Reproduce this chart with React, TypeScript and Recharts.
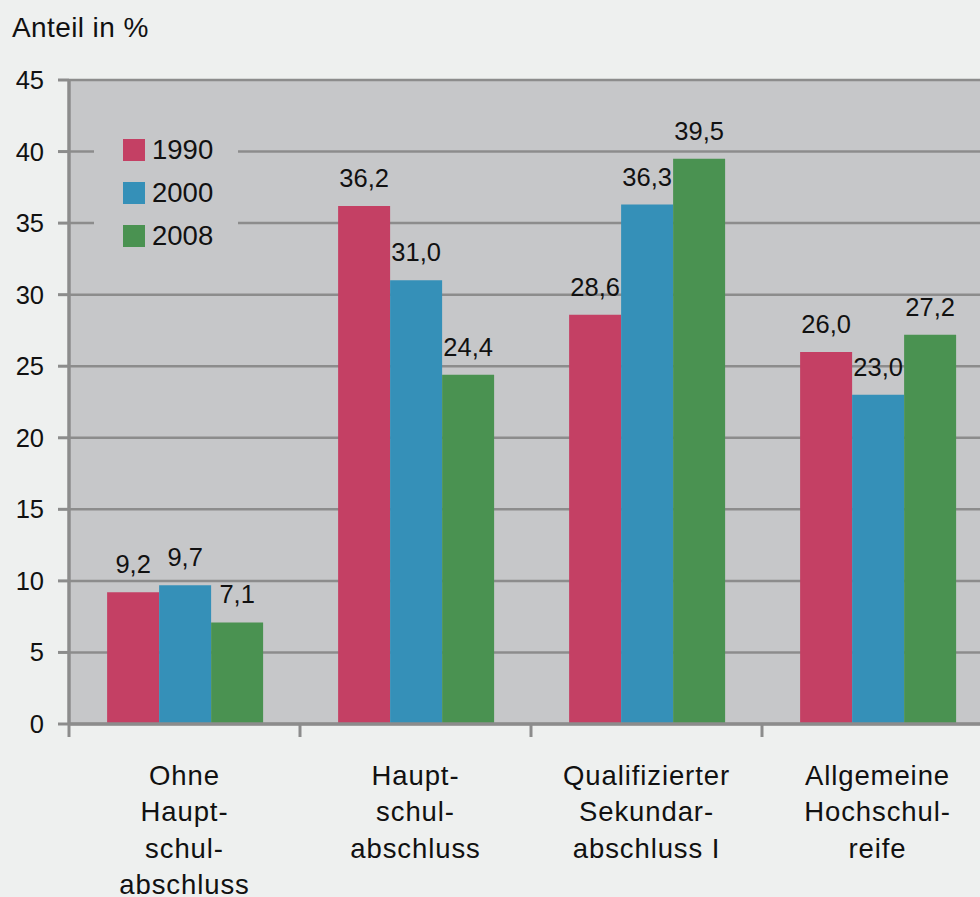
import React from "react";
import {
  BarChart,
  Bar,
  XAxis,
  YAxis,
  CartesianGrid,
  LabelList,
  Legend,
} from "recharts";

// Schulabschlüsse nach Jahr, Anteil in %
const categories = [
  "Ohne\nHaupt-\nschul-\nabschluss",
  "Haupt-\nschul-\nabschluss",
  "Qualifizierter\nSekundar-\nabschluss I",
  "Allgemeine\nHochschul-\nreife",
];
const values1990 = [9.2, 36.2, 28.6, 26.0];
const values2000 = [9.7, 31.0, 36.3, 23.0];
const values2008 = [7.1, 24.4, 39.5, 27.2];
const yTicks = [0, 5, 10, 15, 20, 25, 30, 35, 40, 45];

const seriesDefs = [
  { key: "y1990", name: "1990", color: "#c44064", values: values1990 },
  { key: "y2000", name: "2000", color: "#3590b8", values: values2000 },
  { key: "y2008", name: "2008", color: "#4a9251", values: values2008 },
];

const data = categories.map((cat, i) => {
  const row: Record<string, string | number> = { cat };
  seriesDefs.forEach((s) => {
    row[s.key] = s.values[i];
  });
  return row;
});

const FONT = '"Liberation Sans", Arial, Helvetica, sans-serif';
const AXIS = "#8c8c8c";
const PLOT_BG = "#c6c7c9";
const PAGE_BG = "#eef0ef";
const BAND = 231;

const fmt = (v: number) => v.toFixed(1).replace(".", ",");

const CategoryTick = (props: any) => {
  const { x, y, payload } = props;
  const lines = String(payload.value).split("\n");
  return (
    <g>
      <line
        x1={x - BAND / 2}
        x2={x - BAND / 2}
        y1={y}
        y2={y + 13}
        stroke={AXIS}
        strokeWidth={3}
      />
      <text
        x={x}
        y={y}
        textAnchor="middle"
        fontFamily={FONT}
        fontSize={27.5}
        letterSpacing={0.9}
        fill="#111"
      >
        {lines.map((l, i) => (
          <tspan key={i} x={x} dy={i === 0 ? 61 : 36.3}>
            {l}
          </tspan>
        ))}
      </text>
    </g>
  );
};

const ValueLabel = (props: any) => {
  const { x, y, width, value } = props;
  return (
    <text
      x={x + width / 2}
      y={y - 19}
      textAnchor="middle"
      fontFamily={FONT}
      fontSize={25.5}
      fill="#111"
    >
      {fmt(Number(value))}
    </text>
  );
};

const LegendBox = () => (
  <div
    style={{
      width: 144,
      height: 132,
      background: PLOT_BG,
      boxSizing: "border-box",
      paddingLeft: 29,
      paddingTop: 6,
      fontFamily: FONT,
      fontSize: 27.5,
      color: "#111",
    }}
  >
    {seriesDefs.map((s) => (
      <div
        key={s.key}
        style={{ display: "flex", alignItems: "center", height: 43 }}
      >
        <span
          style={{
            display: "inline-block",
            width: 22,
            height: 22,
            background: s.color,
            marginRight: 7,
          }}
        />
        <span>{s.name}</span>
      </div>
    ))}
  </div>
);

export default function App() {
  return (
    <div
      style={{
        position: "absolute",
        left: 0,
        top: 0,
        width: 980,
        height: 897,
        overflow: "hidden",
        background: PAGE_BG,
      }}
    >
      <div
        style={{
          position: "absolute",
          left: 12,
          top: 12,
          fontFamily: FONT,
          fontSize: 28,
          letterSpacing: 0.4,
          color: "#111",
          lineHeight: "32px",
        }}
      >
        Anteil in %
      </div>
      <BarChart
        width={1000}
        height={897}
        data={data}
        margin={{ top: 80, right: 7, left: 0, bottom: 0 }}
        barCategoryGap="16.5%"
        barGap={0}
      >
        <CartesianGrid
          vertical={false}
          stroke={AXIS}
          strokeWidth={2.5}
          fill={PLOT_BG}
          fillOpacity={1}
        />
        <XAxis
          dataKey="cat"
          height={173}
          interval={0}
          tickLine={false}
          tickSize={0}
          tickMargin={0}
          axisLine={{ stroke: AXIS, strokeWidth: 3.5 }}
          tick={<CategoryTick />}
        />
        <YAxis
          width={69}
          domain={[0, 45]}
          ticks={yTicks}
          interval={0}
          tickSize={11}
          tickMargin={14}
          axisLine={{ stroke: AXIS, strokeWidth: 3.5 }}
          tickLine={{ stroke: AXIS, strokeWidth: 3 }}
          tick={{ fontFamily: FONT, fontSize: 25.5, fill: "#111" }}
        />
        <Legend
          layout="vertical"
          align="center"
          verticalAlign="middle"
          content={<LegendBox />}
          wrapperStyle={{ position: "absolute", left: 94, top: 122, width: 144, height: 132 }}
        />
        {seriesDefs.map((s) => (
          <Bar
            key={s.key}
            dataKey={s.key}
            name={s.name}
            fill={s.color}
            isAnimationActive={false}
          >
            <LabelList dataKey={s.key} content={<ValueLabel />} />
          </Bar>
        ))}
      </BarChart>
    </div>
  );
}
